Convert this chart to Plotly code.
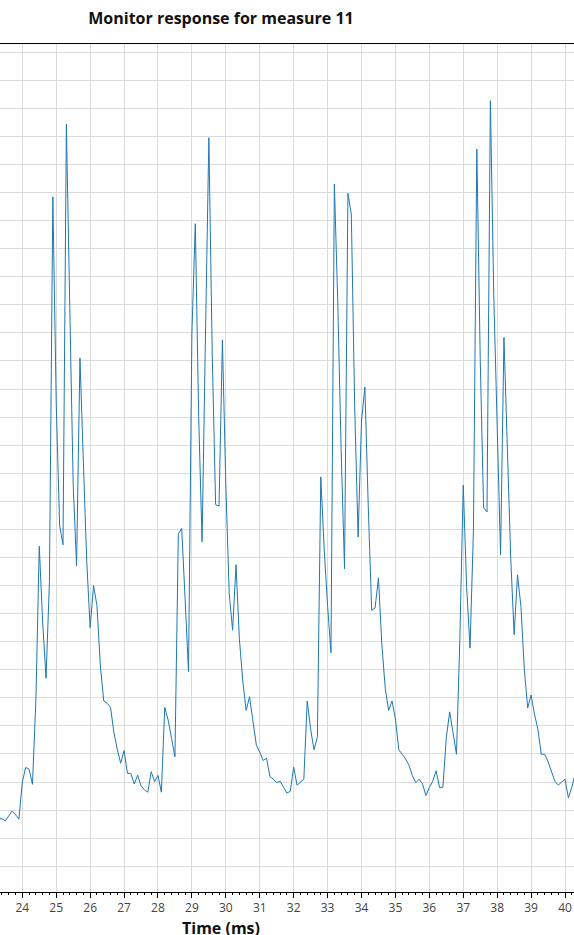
import plotly.graph_objects as go

# Sample times (ms), 0.1 ms sampling
time_ms = [
    23.3, 23.4, 23.5, 23.6, 23.7, 23.8, 23.9,
    24.0, 24.1, 24.2, 24.3, 24.4, 24.5, 24.6, 24.7, 24.8, 24.9,
    25.0, 25.1, 25.2, 25.3, 25.4, 25.5, 25.6, 25.7, 25.8, 25.9,
    26.0, 26.1, 26.2, 26.3, 26.4, 26.5, 26.6, 26.7, 26.8, 26.9,
    27.0, 27.1, 27.2, 27.3, 27.4, 27.5, 27.6, 27.7, 27.8, 27.9,
    28.0, 28.1, 28.2, 28.3, 28.4, 28.5, 28.6, 28.7, 28.8, 28.9,
    29.0, 29.1, 29.2, 29.3, 29.4, 29.5, 29.6, 29.7, 29.8, 29.9,
    30.0, 30.1, 30.2, 30.3, 30.4, 30.5, 30.6, 30.7, 30.8, 30.9,
    31.0, 31.1, 31.2, 31.3, 31.4, 31.5, 31.6, 31.7, 31.8, 31.9,
    32.0, 32.1, 32.2, 32.3, 32.4, 32.5, 32.6, 32.7, 32.8, 32.9,
    33.0, 33.1, 33.2, 33.3, 33.4, 33.5, 33.6, 33.7, 33.8, 33.9,
    34.0, 34.1, 34.2, 34.3, 34.4, 34.5, 34.6, 34.7, 34.8, 34.9,
    35.0, 35.1, 35.2, 35.3, 35.4, 35.5, 35.6, 35.7, 35.8, 35.9,
    36.0, 36.1, 36.2, 36.3, 36.4, 36.5, 36.6, 36.7, 36.8, 36.9,
    37.0, 37.1, 37.2, 37.3, 37.4, 37.5, 37.6, 37.7, 37.8, 37.9,
    38.0, 38.1, 38.2, 38.3, 38.4, 38.5, 38.6, 38.7, 38.8, 38.9,
    39.0, 39.1, 39.2, 39.3, 39.4, 39.5, 39.6, 39.7, 39.8, 39.9,
    40.0, 40.1, 40.2, 40.3,
]

# Monitor response (arbitrary units)
response = [
    16.8, 17.0, 16.2, 18.0, 19.7, 18.4, 16.8,
    30.0, 35.2, 34.6, 29.2, 59.0, 114.0, 87.0, 67.0, 101.5, 238.5,
    165.0, 121.5, 114.5, 264.3, 199.0, 136.0, 107.0, 181.0, 144.0, 108.5,
    85.0, 100.0, 93.0, 71.7, 58.9, 58.1, 56.6, 47.7, 41.7, 36.7,
    41.2, 33.1, 33.1, 29.3, 32.4, 28.7, 27.2, 26.4, 33.7, 30.1,
    32.4, 26.4, 56.6, 52.1, 45.6, 39.0, 118.4, 120.3, 95.0, 69.3,
    189.7, 228.9, 160.2, 115.6, 188.9, 259.5, 182.0, 128.8, 128.3, 187.5,
    135.8, 97.1, 84.1, 107.4, 81.0, 66.0, 55.5, 60.4, 51.7, 43.2,
    40.7, 37.7, 38.5, 32.0, 31.0, 29.8, 30.3, 28.1, 26.1, 26.7,
    35.3, 28.9, 29.8, 31.0, 58.9, 48.8, 41.5, 46.1, 138.7, 113.0,
    93.0, 76.1, 243.0, 201.0, 148.5, 106.0, 239.7, 232.3, 163.3, 117.3,
    158.6, 170.7, 128.0, 91.2, 92.0, 102.7, 79.0, 63.4, 55.5, 58.9,
    52.5, 41.5, 39.9, 38.2, 36.0, 32.3, 29.8, 31.0, 29.3, 25.2,
    28.1, 30.3, 34.0, 28.1, 28.1, 45.8, 55.0, 46.6, 39.9, 81.1,
    135.8, 99.6, 77.7, 119.8, 255.5, 181.0, 127.7, 126.2, 272.7, 203.2,
    155.0, 110.9, 188.4, 148.5, 109.7, 82.5, 103.8, 92.6, 70.2, 56.4,
    61.0, 54.2, 48.8, 39.9, 39.9, 37.3, 34.0, 30.3, 28.9, 29.8,
    31.0, 24.4, 28.1, 33.0,
]

x_ticks = [24, 25, 26, 27, 28, 29, 30, 31, 32, 33, 34, 35, 36, 37, 38, 39, 40]

title_text = "Monitor response for measure 11"
x_title_text = "Time (ms)"

W, H = 574, 935

fig = go.Figure()
fig.add_trace(go.Scatter(
    x=time_ms, y=response, mode="lines",
    line=dict(color="#1f77b4", width=1),
    showlegend=False,
))

fig.update_layout(
    width=W, height=H,
    margin=dict(l=0, r=0, t=44, b=43),
    paper_bgcolor="white", plot_bgcolor="white",
    font=dict(family="Open Sans", size=12, color="#444"),
    title=dict(text="<b>" + title_text + "</b>", x=221 / W, xanchor="center",
               y=1 - 18 / H, yanchor="middle",
               font=dict(size=16, color="#111", family="Open Sans")),
    annotations=[dict(
        text="<b>" + x_title_text + "</b>", xref="paper", yref="paper",
        x=221 / W, y=-(927.5 - 892) / 848, xanchor="center", yanchor="middle",
        showarrow=False, font=dict(size=16, color="#111", family="Open Sans"),
    )],
)

fig.update_xaxes(
    range=[23.3426, 40.265],
    tickmode="array", tickvals=x_ticks, ticktext=[str(v) for v in x_ticks],
    ticks="outside", ticklen=5, tickcolor="black", tickwidth=1,
    showline=True, linecolor="black", linewidth=1, mirror=True,
    showgrid=True, gridcolor="#dcdcdc", gridwidth=1,
    zeroline=False, automargin=False,
    minor=dict(dtick=0.2, tick0=0, ticks="outside", ticklen=2, tickcolor="black", showgrid=False),
    tickfont=dict(size=12, color="#444"),
)
fig.update_yaxes(
    range=[-9.16, 292.9],
    dtick=10, tick0=0,
    showticklabels=False, ticks="",
    showline=False, showgrid=True, gridcolor="#dcdcdc", gridwidth=1,
    zeroline=False, automargin=False,
)

fig.write_html(
    "out.html",
    config={"displayModeBar": False},
    post_script="document.body.style.margin='0px';"
                "document.documentElement.style.overflow='hidden';",
)
